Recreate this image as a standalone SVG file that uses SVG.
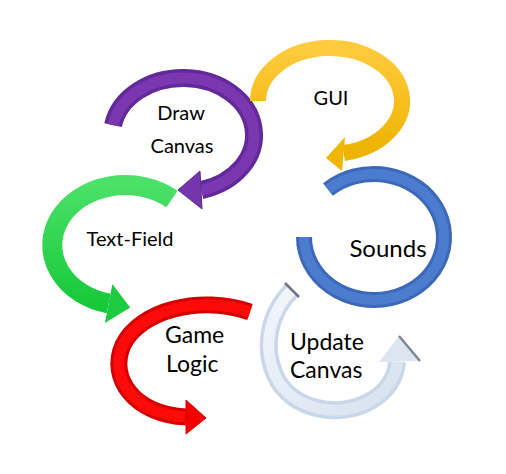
<svg xmlns="http://www.w3.org/2000/svg" width="506" height="474" viewBox="0 0 506 474">
<defs>
<linearGradient id="gY" x1="0" y1="0" x2="0" y2="1"><stop offset="0" stop-color="#FFCB3E"/><stop offset="1" stop-color="#EDB300"/></linearGradient>
<linearGradient id="gG" x1="0" y1="0" x2="0" y2="1"><stop offset="0" stop-color="#4BE068"/><stop offset="1" stop-color="#17C93A"/></linearGradient>
<linearGradient id="gL" x1="0" y1="0" x2="1" y2="1"><stop offset="0" stop-color="#F2F6FB"/><stop offset="1" stop-color="#D6E2EF"/></linearGradient>
</defs>
<style>
.t{font-family:Lato,"Liberation Sans",sans-serif;fill:#000}
.arc{fill:none;stroke-linecap:butt;stroke-linejoin:round}
</style>
<rect width="506" height="474" fill="#FFFFFF"/>
<g id="connectors"/>
<g id="sounds">
<path class="arc" d="M304,237 A70 63 0 1 0 328,189.5" stroke="#3D68B8" stroke-width="16"/>
<path class="arc" d="M304,237 A70 63 0 1 0 328,189.5" stroke="#4C7CCD" stroke-width="10"/>
<text class="t" x="388" y="257" font-size="24" text-anchor="middle">Sounds</text>
</g>
<g id="update-canvas">
<path class="arc" d="M292,290 C270,312 262,345 275,375 C290,410 340,420 372,400 C386,392 396,378 397,362" stroke="#C9D7E8" stroke-width="18"/>
<path class="arc" d="M292,290 C270,312 262,345 275,375 C290,410 340,420 372,400 C386,392 396,378 397,362" stroke="url(#gL)" stroke-width="11"/>
<line x1="285" y1="283" x2="299" y2="297" stroke="#6E7480" stroke-width="2.5"/>
<polygon points="379,362 420,361 399,336" fill="#DCE6F1"/>
<line x1="399" y1="336" x2="420" y2="361" stroke="#80868F" stroke-width="2.5"/>
<text class="t" x="290" y="350" font-size="23">Update</text>
<text class="t" x="290" y="378" font-size="23">Canvas</text>
</g>
<g id="game-logic">
<path class="arc" d="M250,312 C200,295 140,310 123,345 C108,378 135,415 186,417" stroke="#D40000" stroke-width="17"/>
<path class="arc" d="M250,312 C200,295 140,310 123,345 C108,378 135,415 186,417" stroke="#FF0A0A" stroke-width="11"/>
<polygon points="186,400 186,434 206,418" fill="#F20000" stroke="#D40000" stroke-width="1"/>
<text class="t" x="165" y="343" font-size="23">Game</text>
<text class="t" x="166" y="372" font-size="23">Logic</text>
</g>
<g id="text-field">
<path class="arc" d="M172,199 A73 60 0 1 0 108.6,303.5" stroke="url(#gG)" stroke-width="20"/>
<polygon points="112.3,283.9 104.9,323.1 130.2,307.6" fill="#1ECB40"/>
<text class="t" x="130" y="246" font-size="20" text-anchor="middle">Text-Field</text>
</g>
<g id="draw-canvas">
<path class="arc" d="M113.1,125.1 A71 57 0 1 1 201.4,190.1" stroke="#62299A" stroke-width="18"/>
<path class="arc" d="M113.1,125.1 A71 57 0 1 1 201.4,190.1" stroke="#7A37B0" stroke-width="11"/>
<polygon points="200,171 202,209 178,190" fill="#7535AC" stroke="#5E2792" stroke-width="1"/>
<text class="t" x="181" y="120" font-size="20" text-anchor="middle">Draw</text>
<text class="t" x="182" y="153" font-size="20" text-anchor="middle">Canvas</text>
</g>
<g id="gui">
<path class="arc" d="M258,101 A72 53 0 1 1 343.7,153" stroke="url(#gY)" stroke-width="16"/>
<polygon points="345,137 342,171 326,158" fill="#F0B700"/>
<text class="t" x="331" y="105" font-size="20" text-anchor="middle">GUI</text>
</g>
</svg>
